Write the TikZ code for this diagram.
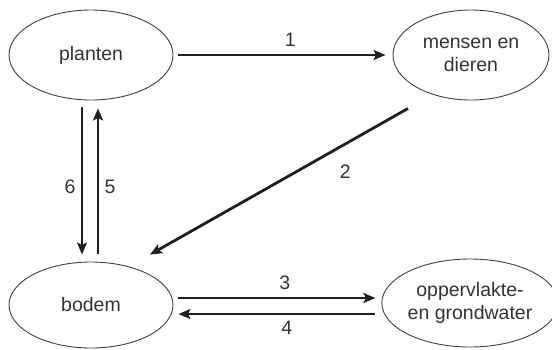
\documentclass[tikz,border=0pt]{standalone}
\usepackage{fontspec}
\setmainfont{Liberation Sans}
\usetikzlibrary{shapes.geometric,arrows.meta,calc}
\begin{document}
\begin{tikzpicture}[x=1pt,y=-1pt,
  blob/.style={ellipse,draw=black!75,line width=0.9pt,inner sep=0pt,align=center,
     text=black!80,font=\fontsize{19.5}{23}\selectfont},
  flow/.style={line width=2.8pt,draw=black!88,-{Stealth[length=12pt,width=10pt,inset=2.5pt]}},
  lbl/.style={inner sep=0pt,text=black!80,font=\fontsize{19.5}{23}\selectfont}]
\useasboundingbox (0,0) rectangle (552,349);
\node[blob,minimum width=164pt,minimum height=90pt] (planten) at (91,55) {planten};
\node[blob,minimum width=156pt,minimum height=90pt] (mensen) at (471,55) {mensen en\\dieren};
\node[blob,minimum width=164pt,minimum height=86pt] (bodem) at (91,305) {bodem};
\node[blob,minimum width=158pt,minimum height=88pt] (opp) at (470,303) {oppervlakte-\\en grondwater};
% 1
\draw[flow] ($(planten.east)+(5,0)$) -- node[lbl,pos=0.54,shift={(0,-15)}] {1} ($(mensen.west)+(-7,0)$);
% 2
\draw[flow] ($(mensen.south)+(-63,8)$) -- node[lbl,pos=0.29,shift={(12,21)}] {2} ($(bodem.north)+(59,-7)$);
% 6
\draw[flow] ($(planten.south)+(-9,7)$) -- node[lbl,pos=0.54,shift={(-12,0)}] {6} ($(bodem.north)+(-9,-7)$);
% 5
\draw[flow] ($(bodem.north)+(7,-8)$) -- node[lbl,pos=0.46,shift={(12,0)}] {5} ($(planten.south)+(7,8)$);
% 3
\draw[flow] ($(bodem.east)+(5,-7)$) -- node[lbl,pos=0.54,shift={(0,-15)}] {3} ($(opp.west)+(-6,-5)$);
% 4
\draw[flow] ($(opp.west)+(-6,11)$) -- node[lbl,pos=0.45,shift={(0,14)}] {4} ($(bodem.east)+(5,9)$);
\end{tikzpicture}
\end{document}
